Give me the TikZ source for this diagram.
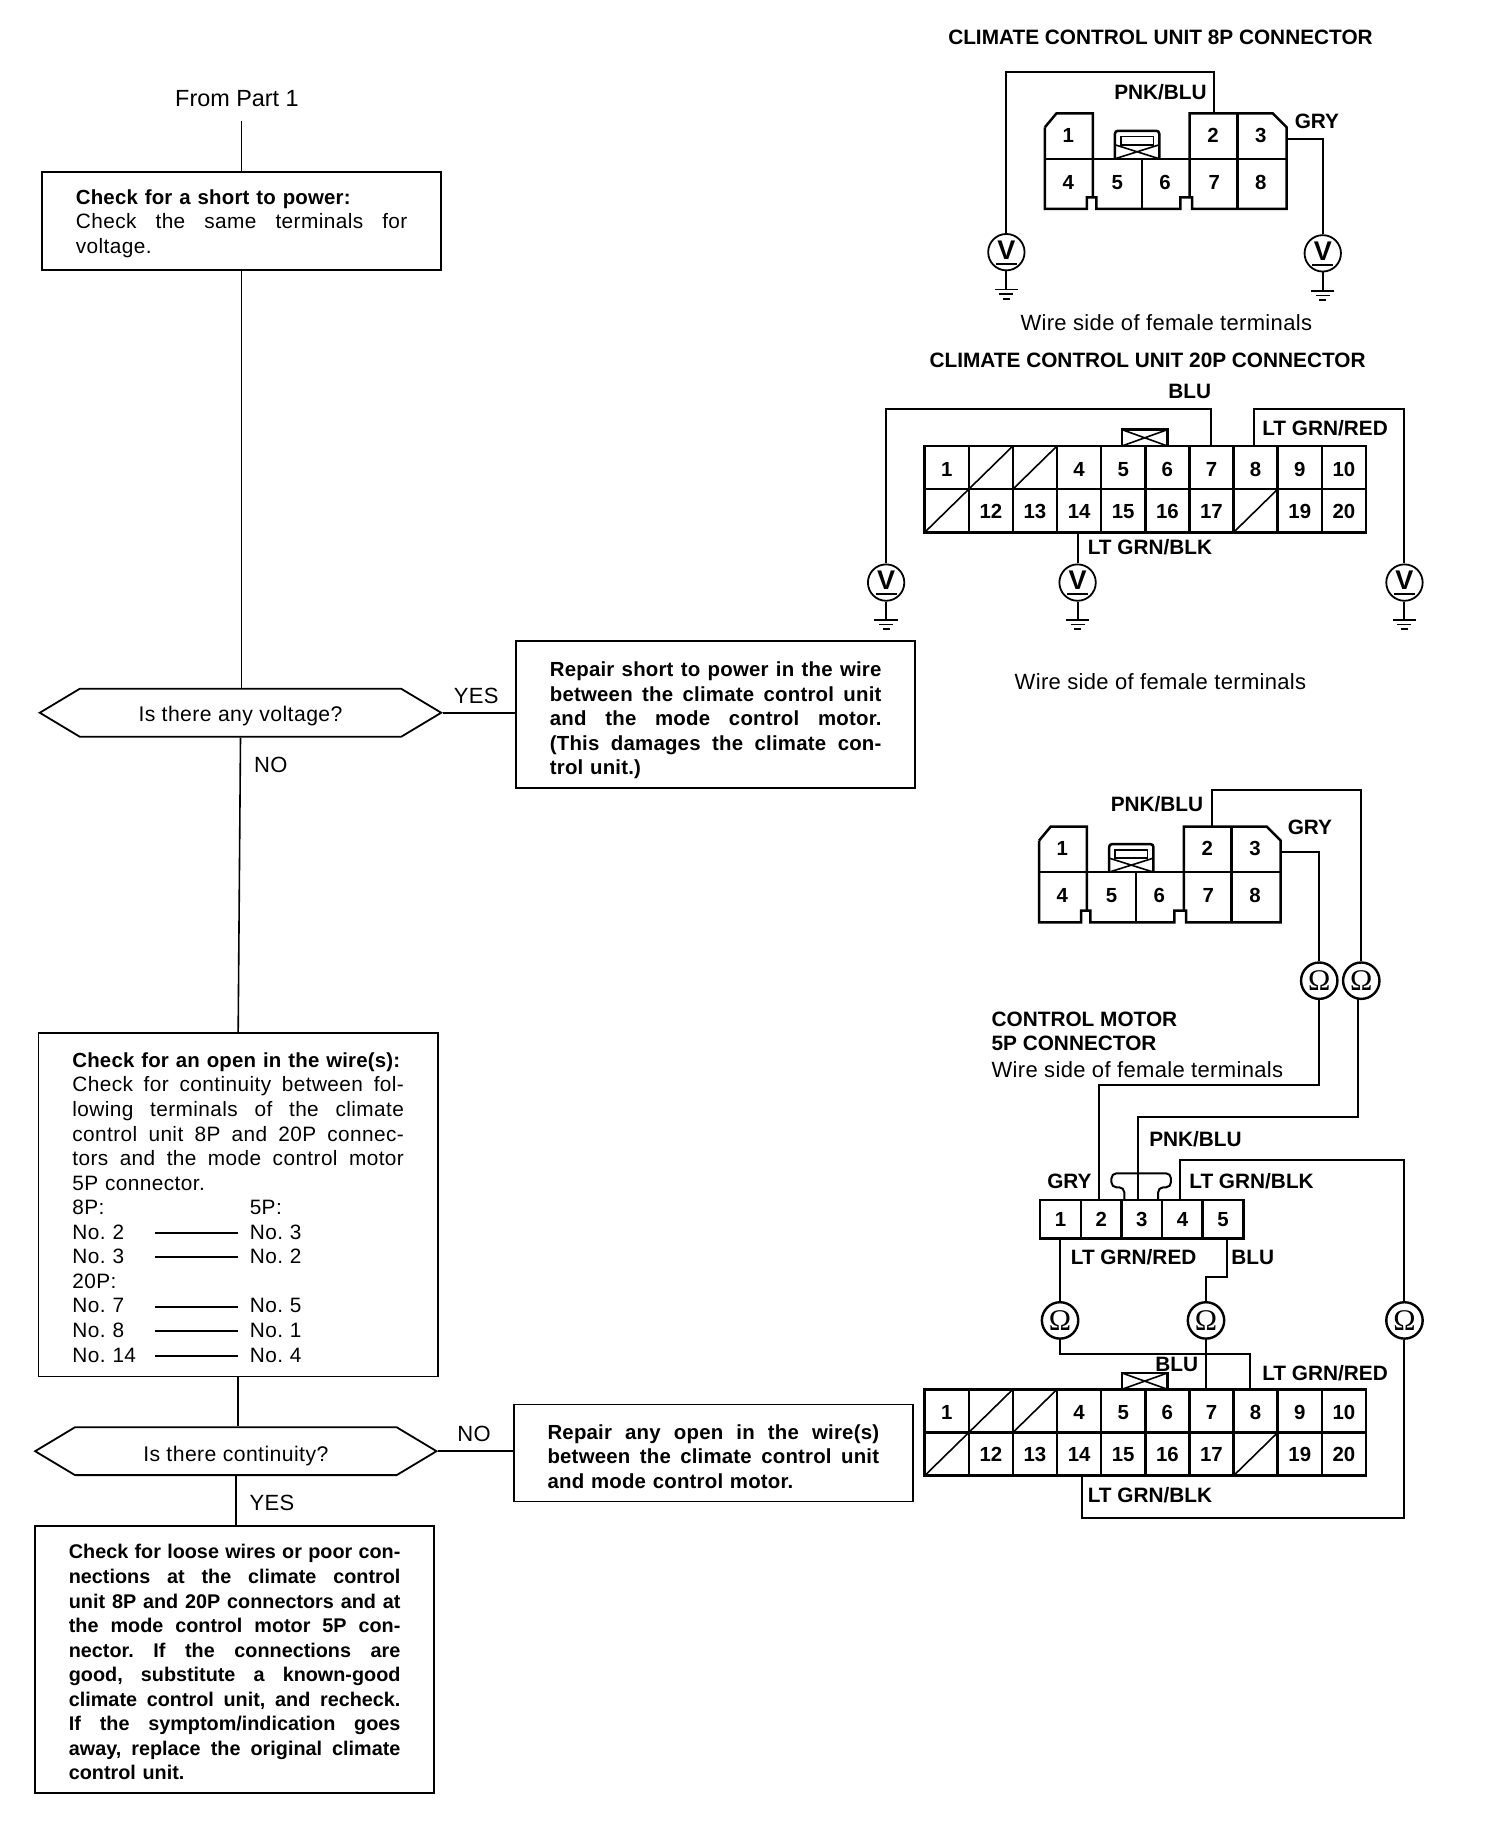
\documentclass[tikz,border=0pt]{standalone}
\usepackage{fontspec}
\setmainfont{Liberation Sans}
\newfontfamily\omfont{Liberation Serif}
\usetikzlibrary{calc,shapes.symbols}
\newlength{\boxtw}\setlength{\boxtw}{165.8pt}
\newcommand{\jl}[1]{\leavevmode\hbox to\boxtw{\spaceskip=0.28em plus 1fil\relax #1}}
\newcommand{\nol}[2]{\makebox[41.45pt][l]{#1}\rule[2.7pt]{41.45pt}{1pt}\hspace{5.84pt}#2}
\newcommand{\bodyf}{\fontsize{10.4}{12.28}\selectfont\addfontfeature{LetterSpace=2}}
\newcommand{\boldf}{\fontsize{10.2}{12.28}\selectfont\bfseries\addfontfeature{LetterSpace=1}}
\newcommand{\boldg}{\fontsize{9.9}{12.28}\selectfont\bfseries}
\tikzset{
 x=0.5838pt,y=-0.5838pt,
 wire/.style={line width=1pt,line join=miter},
 conn/.style={line width=1.25pt,line join=miter},
 thinl/.style={line width=0.8pt},
 flow/.style={line width=0.8pt},
 pin/.style={font=\fontsize{10.2}{12}\selectfont\bfseries,inner sep=0pt},
 lbl/.style={font=\fontsize{10.4}{12}\selectfont\bfseries,inner sep=0pt},
 plain/.style={font=\fontsize{11}{12}\selectfont\addfontfeature{LetterSpace=1.5},inner sep=0pt},
 meter/.style={circle,draw,line width=0.9pt,minimum size=18.2pt,inner sep=0pt,font=\fontsize{13.5}{13.5}\selectfont\bfseries},
 box/.style={draw,line width=0.9pt,minimum width=199.6pt,text width=\boxtw,inner xsep=16.9pt,inner ysep=0pt,align=left},
 tdown/.style={execute at begin node={\rule{0pt}{#1}}},
 hex/.style={draw,line width=0.9pt,shape=signal,signal to=west and east,signal pointer angle=62,minimum width=200.7pt,minimum height=23.95pt,inner sep=0pt,font=\fontsize{10.6}{12}\selectfont\addfontfeature{LetterSpace=2}},
}
\newcommand{\gnd}[1]{%
 \coordinate (#1-g) at ($(#1)+(0,32)$);
 \draw[wire] (#1.south)--(#1-g);
 \draw[thinl] ($(#1-g)+(-10,0)$)--($(#1-g)+(10,0)$);
 \draw[thinl] ($(#1-g)+(-6,4)$)--($(#1-g)+(6,4)$);
 \draw[thinl] ($(#1-g)+(-3,8)$)--($(#1-g)+(3,8)$);}
\newcommand{\vm}[3]{%
 \node[meter] (#1) at (#2,#3) {\raisebox{2pt}{V}};
 \draw[thinl] ($(#1)+(-9,10)$)--($(#1)+(9,10)$);
 \gnd{#1}}
\newcommand{\om}[3]{\node[meter,line width=1.2pt,font=\omfont\fontsize{15}{15}\selectfont] (#1) at (#2,#3) {Ω};}
\newcommand{\eightp}[3]{%
 \begin{scope}[shift={(#2,#3)}]
 \draw[conn] (0,12)--(10,0)--(41,0)--(41,72);
 \draw[conn] (0,12)--(0,82)--(36,82)--(36,72)--(44,72)--(44,82)--(116,82)--(116,72)--(126,72)--(126,82)--(207,82)--(207,12)--(195,0)--(124,0)--(124,72);
 \draw[conn] (0,39)--(207,39);
 \draw[conn] (83,39)--(83,82);
 \draw[conn] (165,0)--(165,82);
 \draw[conn,rounded corners=1.5pt] (60,39)--(60,15)--(98,15)--(98,39);
 \draw[thinl] (65,20) rectangle (93,27);
 \draw[thinl] (60,27)--(98,39) (60,39)--(98,27);
 \foreach \n/\px/\py in {1/20/19,2/144/19,3/185/19,4/20/59,5/62/59,6/103/59,7/145/59,8/185/59}
   \node[pin] (#1-\n) at (\px,\py) {\n};
 \coordinate (#1-t2) at (145,0);
 \coordinate (#1-r3) at (207,22);
 \end{scope}}
\newcommand{\twentyp}[3]{%
 \begin{scope}[shift={(#2,#3)}]
 \draw[conn] (0,0) rectangle (378,74);
 \draw[conn] (0,37)--(378,37);
 \foreach \i in {1,...,9} \draw[conn] ({\i*37.8},0)--({\i*37.8},74);
 \draw[thinl] (37.8,37)--(75.6,0) (75.6,37)--(113.4,0) (0,74)--(37.8,37) (264.6,74)--(302.4,37);
 \draw[conn] (169,0)--(169,-14)--(208,-14)--(208,0);
 \draw[thinl] (169,-14)--(208,0) (169,0)--(208,-14);
 \foreach \n/\c in {1/0,4/3,5/4,6/5,7/6,8/7,9/8,10/9}
   \node[pin] (#1-\n) at ({(\c+.5)*37.8},20) {\n};
 \foreach \n/\c in {12/1,13/2,14/3,15/4,16/5,17/6,19/8,20/9}
   \node[pin] (#1-\n) at ({(\c+.5)*37.8},56) {\n};
 \end{scope}}
\begin{document}
\frenchspacing
\begin{tikzpicture}
\useasboundingbox (0,0) rectangle (1288.2,1569.2);
% ---------- flow chart
\node[font=\fontsize{11.7}{13}\selectfont,inner sep=0pt] (from) at (203,84) {From Part 1};
\coordinate (fromb) at (207,104);
\node[box,tdown=10.4pt,minimum height=49.04pt,font=\bodyf] (b1) at (207,189) {%
 {\boldf Check for a short to power:}\\\jl{Check the same terminals for}\\voltage.};
\node[hex] (h1) at (206,610.5) {\raisebox{-4.5pt}[0pt][0pt]{Is there any voltage?}};
\node[box,tdown=13.2pt,minimum height=73.5pt,font=\boldf] (b2) at (613,612) {%
 \jl{Repair short to power in the wire}\\\jl{between the climate control unit}\\\jl{and the mode control motor.}\\\jl{(This damages the climate con-}\\trol unit.)};
\node[box,tdown=10pt,minimum height=171.6pt,font=\bodyf] (b3) at (204,1032) {%
 {\boldf Check for an open in the wire(s):}\\\jl{Check for continuity between fol-}\\\jl{lowing terminals of the climate}\\\jl{control unit 8P and 20P connec-}\\\jl{tors and the mode control motor}\\5P connector.\\
 \makebox[88.7pt][l]{8P:}5P:\\\nol{No. 2}{No. 3}\\\nol{No. 3}{No. 2}\\20P:\\\nol{No. 7}{No. 5}\\\nol{No. 8}{No. 1}\\\nol{No. 14}{No. 4}};
\node[hex] (h2) at (202,1243) {\raisebox{-5pt}[0pt][0pt]{Is there continuity?}};
\node[box,tdown=11pt,minimum height=48.5pt,font=\boldf] (b4) at (611,1244.5) {%
 \jl{Repair any open in the wire(s)}\\\jl{between the climate control unit}\\and mode control motor.};
\node[box,tdown=10pt,minimum height=133.7pt,font=\boldg] (b5) at (201,1421.5) {%
 \jl{Check for loose wires or poor con-}\\\jl{nections at the climate control}\\\jl{unit 8P and 20P connectors and at}\\\jl{the mode control motor 5P con-}\\\jl{nector. If the connections are}\\\jl{good, substitute a known-good}\\\jl{climate control unit, and recheck.}\\\jl{If the symptom/indication goes}\\\jl{away, replace the original climate}\\control unit.};
\draw[flow] (fromb)--(fromb |- b1.north);
\draw[flow] (b1.south)--(b1.south |- h1.north);
\draw[flow] (h1.east)--(h1.east -| b2.west);
\draw[flow] (h1.south)--(b3.north);
\draw[flow] (b3.south)--(b3.south |- h2.north);
\draw[flow] (h2.east)--(h2.east -| b4.west);
\draw[flow] (h2.south)--(h2.south |- b5.north);
\node[plain] (yes1) at (408,596) {YES};
\node[plain] (no1) at (232,655) {NO};
\node[plain] (no2) at (406,1228) {NO};
\node[plain] (yes2) at (233,1287) {YES};
% ---------- 8P voltage
\node[lbl] (t8) at (994,32) {CLIMATE CONTROL UNIT 8P CONNECTOR};
\eightp{a}{895}{97}
\vm{ma}{862}{216}
\vm{mb}{1133}{217}
\draw[wire] (a-t2)--++(0,-35)-|(ma.north);
\draw[wire] (a-r3)-|(mb.north);
\node[lbl] (apb) at (994,79) {PNK/BLU};
\node[lbl] (agr) at (1128,104) {GRY};
\node[plain] (aw) at (999,276) {Wire side of female terminals};
% ---------- 20P voltage
\node[lbl] (t20) at (983,309) {CLIMATE CONTROL UNIT 20P CONNECTOR};
\twentyp{c}{792}{382}
\vm{mc}{759}{499}
\vm{md}{923}{499}
\vm{me}{1203}{499}
\coordinate (c7) at (1037,382);
\coordinate (c8) at (1074,382);
\coordinate (c14) at (923,456);
\draw[wire] (c7)--++(0,-32)-|(mc.north);
\draw[wire] (c8)--++(0,-32)-|(me.north);
\draw[wire] (c14)--(md.north);
\node[lbl] (cb) at (1019,335) {BLU};
\node[lbl] (cr) at (1135,367) {LT GRN/RED};
\node[lbl] (ck) at (985,469) {LT GRN/BLK};
\node[plain] (cw) at (994,584) {Wire side of female terminals};
% ---------- 8P continuity
\eightp{e}{890}{708}
\om{o1}{1130}{840}
\om{o2}{1166}{840}
\coordinate (e-w2) at ($(e-t2)+(3,0)$);
\draw[wire] (e-w2)--++(0,-31)-|(o2.north);
\draw[wire] (e-r3)-|(o1.north);
\node[lbl] (epb) at (991,689) {PNK/BLU};
\node[lbl] (egr) at (1122,709) {GRY};
\node[lbl,anchor=west] (mot1) at (849,873) {CONTROL MOTOR};
\node[lbl,anchor=west] (mot2) at (849,894) {5P CONNECTOR};
\node[plain,anchor=west] (mot3) at (849,916) {Wire side of female terminals};
% ---------- 5P
\begin{scope}[shift={(891,1028)}]
 \draw[conn] (0,0) rectangle (174,33);
 \foreach \i in {1,...,4} \draw[conn] ({\i*34.8},0)--({\i*34.8},33);
 \foreach \n in {1,...,5} \node[pin] (f-\n) at ({(\n-.5)*34.8},16.5) {\n};
\end{scope}
\coordinate (f2) at (941,1028);
\coordinate (f3) at (975,1028);
\coordinate (f4) at (1011,1028);
\coordinate (f1b) at (908,1061);
\coordinate (f5b) at (1051,1061);
\draw[conn,line width=1pt,rounded corners=2.5pt] (963,1028)--(963,1017)--(952,1017)--(952,1005)--(1003,1005)--(1003,1017)--(992,1017)--(992,1028);
\om{o3}{908}{1131}
\om{o4}{1033}{1131}
\om{o5}{1203}{1131}
\coordinate (o1j) at (1130,929);
\coordinate (o2b) at (1163,856);
\coordinate (o2j) at (1163,957);
\coordinate (o3j) at (1071,1160);
\coordinate (o5j) at (1203,1300);
\draw[wire] (o1.south)--(o1j)-|(f2);
\draw[wire] (o2b)--(o2j)-|(f3);
\draw[wire] (f4)--++(0,-34)-|(o5.north);
\draw[wire] (f1b)--(o3.north);
\draw[wire] (f5b)--++(0,33)-|(o4.north);
\node[lbl] (fg) at (916,1012) {GRY};
\node[lbl] (fp) at (1024,976) {PNK/BLU};
\node[lbl] (fk) at (1072,1012) {LT GRN/BLK};
\node[lbl] (fr) at (971,1077) {LT GRN/RED};
\node[lbl] (fb) at (1073,1077) {BLU};
% ---------- lower 20P
\twentyp{d}{792}{1190}
\coordinate (d7) at (1033,1190);
\coordinate (d8) at (1071,1190);
\coordinate (d14) at (927,1264);
\draw[wire] (o3.south)|-(o3j)--(d8);
\draw[wire] (o4.south)--(d7);
\draw[wire] (o5.south)--(o5j)-|(d14);
\node[lbl] (db) at (1008,1169) {BLU};
\node[lbl] (dr) at (1135,1176) {LT GRN/RED};
\node[lbl] (dk) at (985,1281) {LT GRN/BLK};
\end{tikzpicture}
\end{document}
